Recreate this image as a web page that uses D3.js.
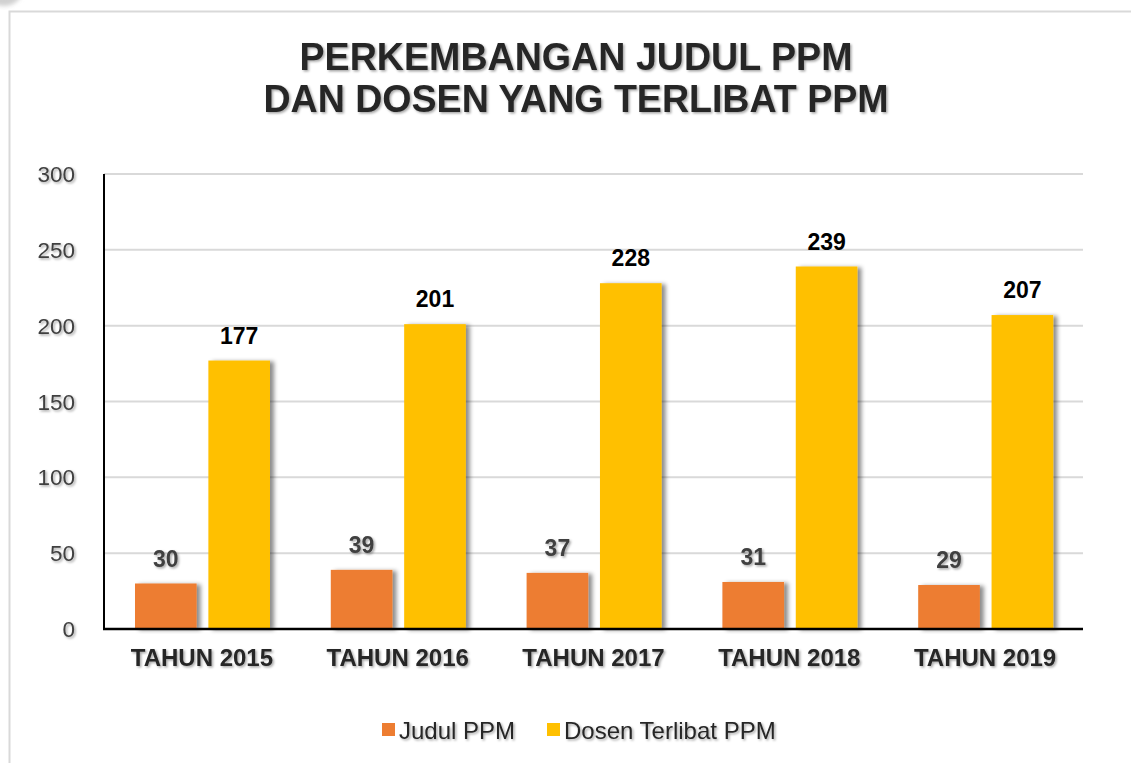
<!DOCTYPE html>
<html>
<head>
<meta charset="utf-8">
<script src="https://cdn.jsdelivr.net/npm/d3@7"></script>
<style>
  html, body { margin: 0; padding: 0; background: #fff; }
  svg { display: block; font-family: "Liberation Sans", Arial, sans-serif; }
</style>
</head>
<body>
<svg id="chart" width="1131" height="763"></svg>
<script>
const categories = ["TAHUN 2015", "TAHUN 2016", "TAHUN 2017", "TAHUN 2018", "TAHUN 2019"];
const seriesNames = ["Judul PPM", "Dosen Terlibat PPM"];
const judulPPM = [30, 39, 37, 31, 29];
const dosenPPM = [177, 201, 228, 239, 207];
const yTicks = [0, 50, 100, 150, 200, 250, 300];
const titleLines = ["PERKEMBANGAN JUDUL PPM", "DAN DOSEN YANG TERLIBAT PPM"];
const colors = ["#ED7D31", "#FFC000"];
const labelColors = ["#404040", "#000000"];

(function () {
const svg = d3.select("#chart");
const defs = svg.append("defs");
const fb = defs.append("filter").attr("id", "barShadow")
  .attr("x", "-20%").attr("y", "-10%").attr("width", "150%").attr("height", "120%");
fb.append("feDropShadow").attr("dx", 4).attr("dy", 1).attr("stdDeviation", 2.2)
  .attr("flood-color", "#000").attr("flood-opacity", 0.45);
const ft = defs.append("filter").attr("id", "textShadow")
  .attr("x", "-10%").attr("y", "-20%").attr("width", "130%").attr("height", "150%");
ft.append("feDropShadow").attr("dx", 1.5).attr("dy", 1.5).attr("stdDeviation", 1.2)
  .attr("flood-color", "#000").attr("flood-opacity", 0.35);
const fc = defs.append("filter").attr("id", "blurC");
fc.append("feGaussianBlur").attr("stdDeviation", 2);

// top-left artifact and frame
svg.append("circle").attr("cx", 4).attr("cy", -14).attr("r", 20)
  .attr("fill", "#d0d0d0").attr("filter", "url(#blurC)");
svg.append("rect").attr("x", 9.5).attr("y", 11.5).attr("width", 1300).attr("height", 900)
  .attr("fill", "none").attr("stroke", "#d9d9d9").attr("stroke-width", 2);

const pLeft = 104, pRight = 1083, pTop = 174, pBottom = 629;
const x = d3.scaleBand().domain(categories).range([pLeft, pRight]).padding(0);
const xs = d3.scaleBand().domain(seriesNames).range([31, 166]).paddingInner(0.16);
const y = d3.scaleLinear().domain([0, 300]).range([pBottom, pTop]);

// title
const titleWidths = [553, 625];
svg.append("g").attr("filter", "url(#textShadow)")
  .selectAll("text").data(titleLines).join("text")
  .attr("x", 576).attr("y", (d, i) => 70 + i * 42)
  .attr("text-anchor", "middle")
  .attr("font-size", 39).attr("font-weight", "bold").attr("fill", "#262626")
  .attr("textLength", (d, i) => titleWidths[i]).attr("lengthAdjust", "spacingAndGlyphs")
  .text(d => d);

// gridlines
svg.append("g").selectAll("line").data(yTicks.filter(t => t > 0)).join("line")
  .attr("x1", pLeft).attr("x2", pRight)
  .attr("y1", d => y(d)).attr("y2", d => y(d))
  .attr("stroke", "#d9d9d9").attr("stroke-width", 2);

// y tick labels
svg.append("g").attr("filter", "url(#textShadow)")
  .selectAll("text").data(yTicks).join("text")
  .attr("x", 75).attr("y", d => y(d) + 8)
  .attr("text-anchor", "end").attr("font-size", 22.5).attr("fill", "#404040")
  .text(d => d);

// bars
const seriesData = [judulPPM, dosenPPM];
seriesNames.forEach((s, si) => {
  const g = svg.append("g");
  g.selectAll("rect").data(categories).join("rect")
    .attr("x", (c) => x(c) + xs(s))
    .attr("width", xs.bandwidth())
    .attr("y", (c, i) => y(seriesData[si][i]))
    .attr("height", (c, i) => y(0) - y(seriesData[si][i]))
    .attr("fill", colors[si])
    .attr("filter", "url(#barShadow)");
  const lg = svg.append("g");
  if (si === 0) lg.attr("filter", "url(#textShadow)");
  lg.selectAll("text").data(categories).join("text")
    .attr("x", (c) => x(c) + xs(s) + xs.bandwidth() / 2)
    .attr("y", (c, i) => y(seriesData[si][i]) - 17)
    .attr("text-anchor", "middle").attr("font-size", 23).attr("font-weight", "bold")
    .attr("fill", labelColors[si])
    .text((c, i) => seriesData[si][i]);
});

// axes lines
svg.append("line").attr("x1", pLeft).attr("x2", pLeft).attr("y1", pTop).attr("y2", pBottom)
  .attr("stroke", "#000").attr("stroke-width", 2);
svg.append("line").attr("x1", pLeft - 1).attr("x2", pRight).attr("y1", pBottom).attr("y2", pBottom)
  .attr("stroke", "#000").attr("stroke-width", 2.5);

// x labels
svg.append("g").attr("filter", "url(#textShadow)")
  .selectAll("text").data(categories).join("text")
  .attr("x", c => x(c) + x.bandwidth() / 2).attr("y", 666)
  .attr("text-anchor", "middle").attr("font-size", 24).attr("font-weight", "bold")
  .attr("fill", "#262626")
  .text(c => c);

// legend
const legendX = [382, 547];
const lgd = svg.append("g");
seriesNames.forEach((s, i) => {
  lgd.append("rect").attr("x", legendX[i]).attr("y", 723).attr("width", 13).attr("height", 13)
    .attr("fill", colors[i]);
  lgd.append("text").attr("x", legendX[i] + 17).attr("y", 738.5)
    .attr("font-size", 24).attr("fill", "#262626").attr("filter", "url(#textShadow)")
    .text(s);
});
})();
</script>
</body>
</html>
